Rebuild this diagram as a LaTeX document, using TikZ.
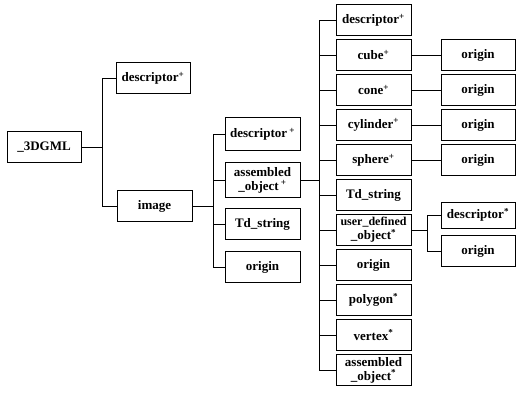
\documentclass[tikz,border=0pt]{standalone}
\usepackage{fontspec}
\setmainfont{Liberation Serif}
\usetikzlibrary{positioning}
\newcommand{\mplus}{\textsuperscript{+}}
\newcommand{\mstar}{\textsuperscript{*}}
\tikzset{
  elem/.style={draw, line width=.9pt, minimum width=75pt, minimum height=31pt, inner sep=2pt, align=center, font=\fontsize{13}{14}\selectfont\bfseries},
  link/.style={line width=.9pt},
}

\begin{document}
\begin{tikzpicture}[x=1pt,y=-1pt]
\useasboundingbox (0,0) rectangle (516,392);
% root
\node[elem, minimum width=74pt] (root) at (44,147) {\_3DGML};
\node[elem, minimum width=74pt] (desc) at (153,78) {descriptor\mplus};
\node[elem] (image) at (154.5,206) {image};
\foreach \n in {desc,image} \draw[link] (root.east) -- ++(21,0) |- (\n.west);
% image
\node[elem, minimum height=33pt] (idesc) at (262.5,134) {descriptor\,\mplus};
\node[elem, minimum height=35pt] (iasm) at (262.5,180) {assembled\\\_object\,\mplus};
\node[elem] (itd) at (262.5,224) {Td\_string};
\node[elem] (iorig) at (262.5,267) {origin};
\foreach \n in {idesc,iasm,itd,iorig} \draw[link] (image.east) -- ++(21,0) |- (\n.west);
% assembled_object
\foreach \t [count=\i, evaluate=\i as \y using -15+35*\i] in {descriptor\mplus, cube\mplus, cone\mplus, cylinder\mplus, sphere\mplus, Td\_string, {\fontsize{12}{13}\selectfont user\_defined\\\_object\mstar}, origin, polygon\mstar, vertex\mstar, {assembled\\\_object\mstar}} {
 \node[elem] (a\i) at (373.5,\y) {\t};
 \draw[link] (iasm.east) -- ++(19,0) |- (a\i.west);
}
\foreach \i [evaluate=\i as \y using -15+35*\i] in {2,...,5} {
 \node[elem, minimum width=74pt] (o\i) at (478,\y) {origin};
 \draw[link] (a\i.east) -- (o\i.west);
}
% user_defined_object
\node[elem, minimum width=74pt, minimum height=26pt] (udesc) at (478,215) {descriptor\mstar};
\node[elem, minimum width=74pt] (uorig) at (478,251) {origin};
\foreach \n in {udesc,uorig} \draw[link] (a7.east) -- ++(16,0) |- (\n.west);
\end{tikzpicture}
\end{document}
